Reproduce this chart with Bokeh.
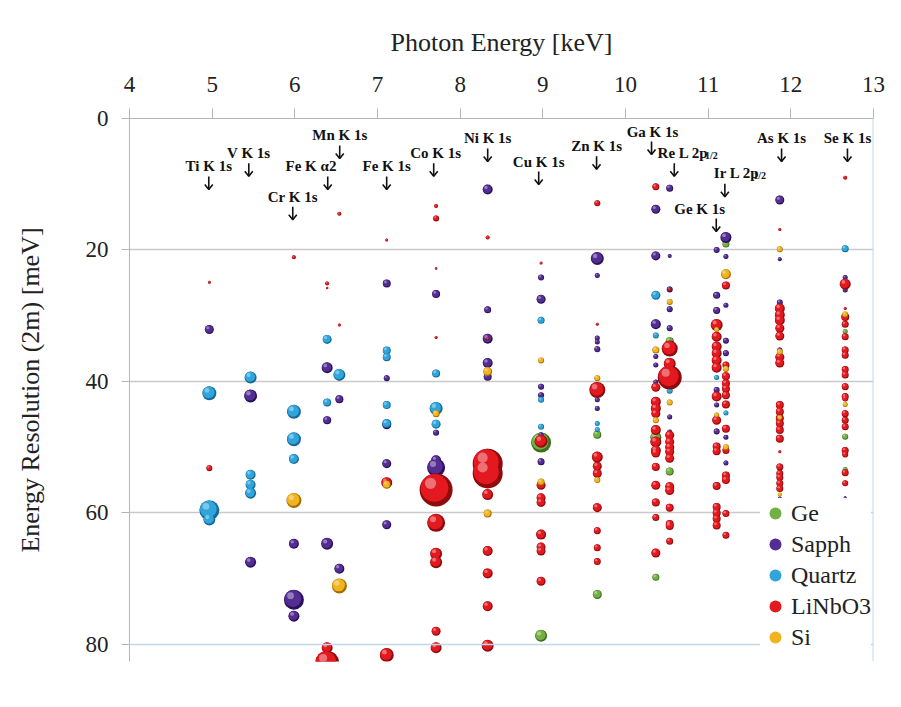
import numpy as np
from bokeh.plotting import figure
from bokeh.models import Range1d, FixedTicker, Span, Legend, LegendItem, BoxAnnotation
from bokeh.core.properties import value
from bokeh.embed import file_html
from bokeh.resources import INLINE

# absorption-edge energies (keV) of the columns
TI, V, CR, FEKA2, MN, FE = 4.966, 5.465, 5.989, 6.391, 6.539, 7.112
CO, NI, CU, ZN, GA, RE = 7.709, 8.333, 8.979, 9.659, 10.367, 10.535
GE, IR, AS, SE = 11.103, 11.215, 11.867, 12.658

# ---- Ge ----
ge_energy = [CU, CU, ZN, ZN, GA, GA, RE, RE, IR, SE, SE, SE, AS]
ge_res = [49.3, 78.7, 48.1, 72.4, 48.5, 69.8, 33.9, 53.7, 19.1, 32.4, 48.4, 53.4, 53.5]
ge_bubble = [20, 12, 8, 9, 11, 7, 8, 8, 7, 5, 6, 5, 4]

# ---- Sapphire ----
sa_energy = [TI, V, V, CR, CR, CR, FEKA2, FEKA2, FEKA2, MN, MN,
             FE, FE, FE, FE, FE, CO, CO, CO, CO,
             NI, NI, NI, NI, NI, CU, CU, CU, CU, CU, CU,
             ZN, ZN, ZN, ZN, ZN, ZN, ZN, GA, GA, GA, GA, GA, GA,
             RE, RE, RE, RE, RE, RE, RE, GE, GE, GE, GE, GE, GE,
             IR, IR, IR, IR, IR, IR, IR, AS, AS, AS, AS, AS, SE, SE, SE]
sa_res = [32.1, 42.2, 67.5, 64.7, 73.2, 75.7, 37.9, 45.9, 64.7, 42.7, 68.5,
          25.1, 39.5, 46.6, 52.5, 61.8, 26.7, 47.8, 52.0, 53.1,
          10.8, 29.1, 33.5, 37.2, 39.3, 24.2, 27.5, 40.8, 42.1, 48.1, 52.2,
          21.3, 23.9, 33.4, 34.0, 35.1, 42.8, 44.1, 13.8, 20.9, 31.3, 36.2, 37.5, 40.1,
          10.6, 20.9, 26.0, 29.0, 31.9, 45.4, 47.7, 20.0, 26.9, 29.2, 41.3, 43.6, 47.6,
          18.1, 21.0, 28.4, 33.8, 35.7, 48.5, 52.4, 12.4, 21.4, 28.0, 35.2, 57.8, 24.2, 26.1, 57.7]
sa_bubble = [9, 13, 11, 10, 20, 11, 11, 8, 12, 8, 10,
             8, 6, 9, 9, 9, 8, 6, 10, 18,
             10, 7, 10, 10, 8, 6, 9, 6, 6, 5, 7,
             13, 5, 5, 5, 6, 5, 5, 9, 9, 10, 5, 5, 5,
             7, 4, 6, 6, 6, 5, 5, 6, 7, 7, 6, 5, 6,
             11, 5, 5, 6, 6, 5, 5, 9, 4, 6, 5, 4, 5, 5, 3]

# ---- Quartz ----
qz_energy = [TI, TI, TI, V, V, V, V, CR, CR, CR, FEKA2, FEKA2, MN,
             FE, FE, FE, FE, CO, CO, CO, NI, CU, CU, CU, ZN, ZN, GA, GA, RE, GE, IR, SE]
qz_res = [41.8, 59.6, 61.0, 39.4, 54.2, 55.7, 57.0, 44.6, 48.8, 51.8, 33.6, 43.2, 39.0,
          35.3, 36.3, 43.6, 46.4, 38.8, 44.1, 46.5, 50.7, 30.7, 42.8, 46.9, 46.4, 47.3, 26.9, 33.0,
          41.4, 39.4, 44.8, 19.8]
qz_bubble = [14, 20, 12, 12, 10, 10, 11, 14, 14, 10, 9, 8, 12,
             8, 8, 8, 9, 8, 13, 9, 6, 7, 6, 6, 5, 5, 9, 6, 6, 5, 5, 7]

# ---- LiNbO3 ----
ln_energy = ([TI, TI, CR, FEKA2, FEKA2, FEKA2, FEKA2, MN, MN, FE, FE, FE]
             + [CO] * 10 + [NI] * 9 + [CU] * 9 + [ZN] * 10 + [GA] * 14
             + [RE] * 15 + [GE] * 15 + [IR] * 13 + [AS] * 20 + [SE] * 20)
ln_res = ([24.9, 53.2, 21.1, 25.1, 25.8, 80.5, 82.8, 14.5, 31.4, 18.5, 55.4, 81.6]
          + [13.3, 15.2, 22.8, 33.3, 56.5, 61.5, 66.2, 67.5, 78.0, 80.5]
          + [18.1, 33.5, 52.5, 54.0, 57.2, 65.8, 69.2, 74.2, 80.2]
          + [22.0, 49.1, 55.8, 57.7, 58.4, 63.3, 65.2, 65.8, 70.4]
          + [12.9, 31.3, 41.3, 51.5, 52.9, 54.0, 59.2, 62.7, 65.3, 67.4]
          + [10.4, 40.9, 43.1, 44.1, 44.9, 47.4, 49.2, 50.5, 50.9, 53.0, 55.8, 58.4, 60.7, 66.1]
          + [26.0, 35.0, 37.3, 39.4, 48.2, 49.2, 50.0, 50.7, 51.7, 56.0, 56.6, 59.2, 61.7, 62.0, 64.3]
          + [31.4, 33.2, 34.7, 35.7, 36.8, 37.9, 42.3, 45.9, 49.9, 50.6, 55.9, 59.1, 60.0, 60.9, 61.9]
          + [25.4, 37.5, 39.2, 40.3, 41.1, 42.1, 43.5, 47.2, 50.5, 54.3, 55.0, 60.1, 63.4]
          + [16.9, 28.9, 29.9, 30.7, 31.9, 33.1, 36.3, 37.2, 43.6, 44.6, 45.6, 46.4, 47.4, 48.7,
             50.7, 53.0, 54.0, 54.6, 55.5, 56.3]
          + [9.0, 25.2, 28.9, 30.2, 31.3, 33.2, 35.2, 36.0, 38.2, 39.0, 40.8, 42.3, 42.6, 44.9,
             45.9, 46.9, 50.5, 51.1, 53.9, 55.5])
ln_bubble = ([3, 6, 4, 4, 2.5, 11, 24, 4, 3, 3, 11, 14]
             + [4, 6, 2.5, 3, 33, 18, 12, 12, 9, 11]
             + [4, 3, 30, 30, 11, 10, 10, 10, 12]
             + [3, 13, 9, 9, 9, 10, 9, 9, 9]
             + [6, 3, 16, 11, 9, 9, 9, 7, 7, 7]
             + [7, 9, 10, 10, 9, 10, 11, 10, 9, 8, 9, 8, 7, 9]
             + [3, 16, 12, 24, 9, 9, 9, 9, 9, 9, 9, 8, 8, 8, 7]
             + [12, 10, 10, 10, 10, 10, 10, 9, 8, 8, 8, 8, 8, 8, 8]
             + [8, 7, 8, 8, 8, 8, 8, 8, 7, 8, 8, 7, 7]
             + [3, 10, 10, 10, 9, 9, 9, 9, 8, 8, 8, 8, 8, 8, 3, 7, 7, 7, 7, 7]
             + [4, 11, 3, 8, 7, 7, 7, 7, 7, 7, 7, 7, 6, 7, 7, 7, 7, 6, 7, 6])

# ---- Si ----
si_energy = [CR, MN, FE, CO, NI, NI, CU, CU, ZN, ZN, GA, GA, RE, RE, GE, GE,
             IR, IR, IR, AS, AS, AS, AS, SE, SE]
si_res = [58.1, 71.1, 55.7, 44.9, 38.5, 60.1, 36.8, 55.3, 39.5, 55.0, 35.2, 45.9, 27.9, 43.2,
          32.1, 45.1, 23.7, 38.1, 50.0, 19.9, 35.5, 45.5, 57.2, 29.8, 43.5]
si_bubble = [15, 15, 8, 7, 9, 8, 6, 7, 6, 6, 7, 6, 6, 6, 5, 5, 10, 6, 6, 6, 6, 5, 4, 6, 5]

# ---- edge annotations ----
ann_text = ["Ti K 1s", "V K 1s", "Cr K 1s", "Fe K \u03b12", "Mn K 1s", "Fe K 1s", "Co K 1s",
            "Ni K 1s", "Cu K 1s", "Zn K 1s", "Ga K 1s", "Ge K 1s", "As K 1s", "Se K 1s"]
ann_x = [4.959, 5.443, 5.975, 6.195, 6.543, 7.111, 7.704, 8.333, 8.95, 9.65, 10.327, 10.897, 11.888, 12.685]
ann_y = [7.2, 5.25, 11.9, 7.2, 2.45, 7.2, 5.25, 3.0, 6.6, 4.2, 2.05, 13.7, 3.0, 3.0]
arrow_x = [4.959, 5.443, 5.975, 6.398, 6.543, 7.111, 7.68, 8.333, 8.95, 9.65, 10.315, 10.59,
           11.202, 11.098, 11.888, 12.685]
arrow_y = [9.8, 7.8, 14.4, 9.8, 5.1, 9.8, 7.8, 5.55, 9.05, 6.75, 4.5, 7.8, 10.9, 16.2, 5.55, 5.55]
lshell_text = ["Re L 2p", "Ir L 2p"]
lshell_x = [10.388, 11.069]
lshell_y = [5.25, 8.35]
sub_x = [10.962, 11.545]
sub_y = [5.6, 8.7]

X_TICKS = [4, 5, 6, 7, 8, 9, 10, 11, 12, 13]
Y_TICKS = [0, 20, 40, 60, 80]

SERIF = "Liberation Serif"
FRAME_W, FRAME_H = 744, 543
X0, X1, Y0, Y1 = 4, 13, 0, 82.6
PX_KEV = FRAME_W / (X1 - X0)
PX_MEV = FRAME_H / (Y1 - Y0)

p = figure(frame_width=FRAME_W, frame_height=FRAME_H,
           x_range=Range1d(X0, X1), y_range=Range1d(Y1, Y0),
           x_axis_location="above", output_backend="svg", toolbar_location=None,
           min_border_left=129, min_border_right=12, min_border_top=118, min_border_bottom=30,
           background_fill_color="white", border_fill_color="white")
p.outline_line_color = None

for ax in (p.xaxis[0], p.yaxis[0]):
    ax.axis_line_color = "#b5b5b5"
    ax.major_tick_line_color = "#b5b5b5"
    ax.minor_tick_line_color = None
    ax.major_tick_in = 0
    ax.major_label_text_font = SERIF
    ax.major_label_text_font_size = "23px"
    ax.major_label_text_color = "#222222"
    ax.axis_label_text_font = SERIF
    ax.axis_label_text_font_size = "26px"
    ax.axis_label_text_font_style = "normal"
    ax.axis_label_text_color = "#222222"

p.xaxis.ticker = FixedTicker(ticks=X_TICKS)
p.yaxis.ticker = FixedTicker(ticks=Y_TICKS)
p.xaxis.axis_label = "Photon Energy [keV]"
p.yaxis.axis_label = "Energy Resolution (2m) [meV]"
p.xaxis.major_tick_out = 10
p.yaxis.major_tick_out = 8
p.xaxis.major_label_standoff = 17
p.yaxis.major_label_standoff = 13
p.xaxis.axis_label_standoff = 17
p.yaxis.axis_label_standoff = 38

p.xgrid.visible = False
p.ygrid.ticker = FixedTicker(ticks=[20, 40, 60])
p.ygrid.grid_line_color = "#c9c9c9"
p.ygrid.grid_line_width = 1.5

p.add_layout(Span(location=80, dimension="width", line_color="#c3d7ea", line_width=1.5))
p.add_layout(Span(location=13, dimension="height", line_color="#c3d7ea", line_width=2))

# light outer border of the picture
p.add_layout(BoxAnnotation(left=7, right=884, top=7, bottom=690,
                           left_units="canvas", right_units="canvas",
                           top_units="canvas", bottom_units="canvas",
                           fill_alpha=0, line_color="#d4d4d4", line_width=1.5))


def bubbles(xs, ys, ds, base, dark):
    xs = np.asarray(xs, float)
    ys = np.asarray(ys, float)
    ds = np.asarray(ds, float)
    p.scatter(xs, ys, size=ds, fill_color=dark, line_color=None)
    r = p.scatter(xs - 0.05 * ds / PX_KEV, ys - 0.06 * ds / PX_MEV, size=ds * 0.84,
                  fill_color=base, line_color=None)
    p.scatter(xs - 0.17 * ds / PX_KEV, ys - 0.2 * ds / PX_MEV, size=ds * 0.34,
              fill_color="white", fill_alpha=0.38, line_color=None)
    return r


series = [
    ("Ge", ge_energy, ge_res, ge_bubble, "#72b043", "#3f6e1e"),
    ("Sapph", sa_energy, sa_res, sa_bubble, "#542d93", "#2a1158"),
    ("Quartz", qz_energy, qz_res, qz_bubble, "#2fa5db", "#156a98"),
    ("LiNbO3", ln_energy, ln_res, ln_bubble, "#e3191f", "#8e0b0e"),
    ("Si", si_energy, si_res, si_bubble, "#f1b41e", "#a36e06"),
]
items = []
for name, xs, ys, ds, base, dark in series:
    r = bubbles(xs, ys, ds, base, dark)
    items.append(LegendItem(label=name, renderers=[r]))

# annotations
p.text(x=ann_x, y=ann_y, text=ann_text, text_font=value(SERIF), text_font_style="bold",
       text_font_size="15px", text_align="center", text_baseline="middle", text_color="#111111")
p.text(x=lshell_x, y=lshell_y, text=lshell_text, text_font=value(SERIF), text_font_style="bold",
       text_font_size="15px", text_align="left", text_baseline="middle", text_color="#111111")
p.text(x=sub_x, y=sub_y, text=["1/2", "1/2"], text_font=value(SERIF), text_font_style="bold",
       text_font_size="10px", text_align="left", text_baseline="middle", text_color="#111111")

# arrows: stem + open head
ax_ = np.asarray(arrow_x)
ay_ = np.asarray(arrow_y)
half_len = 6.5 / PX_MEV
head_h = 5.0 / PX_MEV
head_w = 4.0 / PX_KEV
p.segment(x0=ax_, y0=ay_ - half_len, x1=ax_, y1=ay_ + half_len, line_color="#111111", line_width=1.6)
p.multi_line(xs=[[a - head_w, a, a + head_w] for a in ax_],
             ys=[[b + half_len - head_h, b + half_len, b + half_len - head_h] for b in ay_],
             line_color="#111111", line_width=1.6)

legend = Legend(items=items, location=(631, 9), orientation="vertical",
                background_fill_color="white", background_fill_alpha=1.0,
                border_line_color=None, padding=0, margin=0, spacing=1,
                glyph_width=30, glyph_height=30, label_height=30, label_standoff=1,
                label_text_font=SERIF, label_text_font_size="24px", label_text_color="#222222")
p.add_layout(legend)

open("out.html", "w").write(file_html(p, INLINE))
